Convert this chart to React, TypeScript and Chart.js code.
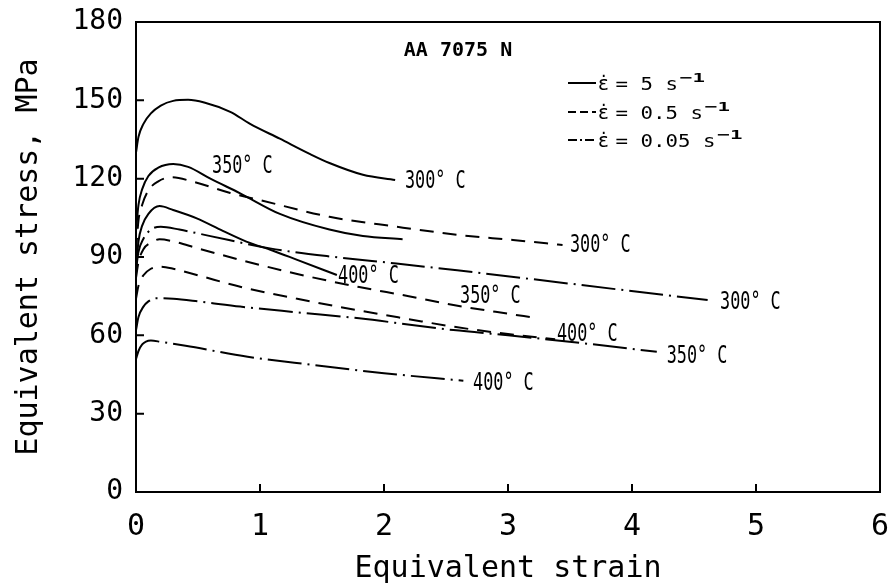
import { useEffect, useRef } from "react";
import { Chart, registerables } from "chart.js";

Chart.register(...registerables);

const FONT = '"DejaVu Sans Mono", monospace';
const SANS = '"DejaVu Sans", sans-serif';

// Axis ticks
const xTickValues = [1, 2, 3, 4, 5];
const yTickValues = [30, 60, 90, 120, 150];

// strain rate 5 s^-1 (solid)
const strain5_300 = [0, 0.02, 0.06, 0.12, 0.2, 0.3, 0.42, 0.55, 0.76, 0.92, 1.16, 1.4, 1.56, 1.83, 2.09];
const stress5_300 = [130, 136, 141, 145, 148, 149.8, 150.2, 149.2, 145.6, 141, 135.3, 129.5, 126, 121.5, 119.5];
const strain5_350 = [0, 0.02, 0.05, 0.1, 0.18, 0.3, 0.42, 0.6, 0.84, 1.16, 1.56, 1.83, 2.15];
const stress5_350 = [100, 110, 116, 121, 124.2, 125.6, 124.5, 120, 114.4, 106.5, 100.5, 98, 96.8];
const strain5_400 = [0, 0.02, 0.05, 0.1, 0.19, 0.3, 0.49, 0.7, 0.89, 1.1, 1.3, 1.62];
const stress5_400 = [85, 96, 102, 106.5, 109.5, 108, 104.8, 100, 95.9, 92.5, 88.9, 83.1];

// strain rate 0.5 s^-1 (dashed)
const strain05_300 = [0, 0.02, 0.05, 0.1, 0.18, 0.29, 0.45, 0.76, 1.0, 1.56, 2.1, 2.61, 3.04, 3.44];
const stress05_300 = [92, 104, 110, 115.5, 119, 120.5, 119, 114.5, 111.8, 105.4, 101.6, 98.4, 96.5, 94.6];
const strain05_350 = [0, 0.02, 0.06, 0.12, 0.19, 0.3, 0.5, 0.84, 1.3, 1.8, 2.2, 2.56, 2.9, 3.24];
const stress05_350 = [82, 88, 93, 95.5, 96.8, 96, 93.3, 88.9, 83.5, 78.5, 75, 71.6, 69, 66.6];
const strain05_400 = [0, 0.02, 0.06, 0.12, 0.19, 0.3, 0.5, 0.84, 1.3, 1.8, 2.2, 2.56, 3.0, 3.38];
const stress05_400 = [74, 79, 83, 85.5, 86.3, 85.5, 83, 78.6, 74, 69.5, 66.2, 63.3, 60.5, 58.5];

// strain rate 0.05 s^-1 (dash-dot)
const strain005_300 = [0, 0.02, 0.06, 0.12, 0.2, 0.35, 0.6, 1.08, 1.6, 2.1, 2.59, 3.2, 3.9, 4.61];
const stress005_300 = [85, 92, 97, 100.5, 101.6, 100.5, 98, 93.3, 90, 87.5, 84.9, 81.5, 77.5, 73.5];
const strain005_350 = [0, 0.02, 0.06, 0.1, 0.16, 0.3, 0.5, 0.84, 1.3, 1.8, 2.56, 3.0, 3.6, 4.2];
const stress005_350 = [62, 67, 71, 73, 74.2, 74, 73, 71, 68.8, 66.5, 62, 60, 57, 53.7];
const strain005_400 = [0, 0.02, 0.05, 0.08, 0.12, 0.2, 0.4, 0.9, 1.4, 2.0, 2.64];
const stress005_400 = [51, 54, 56.5, 57.6, 58, 57.5, 56, 51.8, 48.8, 45.5, 42.6];

// Temperature annotations (left edge / baseline, in data units)
const tempLabels = ["350° C", "300° C", "400° C", "300° C", "350° C", "400° C", "300° C", "350° C", "400° C"];
const tempStrain = [0.613, 2.169, 1.63, 3.5, 2.613, 3.395, 4.71, 4.28, 2.718];
const tempStress = [122.2, 116.4, 80, 91.9, 72.4, 57.8, 70.1, 49.4, 39.1];

// Legend entries
const legendRates = ["5", "0.5", "0.05"];
const chartTitle = "AA 7075 N";

const SOLID: number[] = [];
const DASHED = [14, 9];
const DASHDOT = [34, 6, 2, 6];

export default function App() {
  const ref = useRef<HTMLCanvasElement>(null);

  useEffect(() => {
    document.body.style.margin = "0";
    const canvas = ref.current!;
    const mk = (xs: number[], ys: number[]) => xs.map((x, i) => ({ x, y: ys[i] }));

    const series = [
      { label: "5 s⁻¹, 300° C", xs: strain5_300, ys: stress5_300, dash: SOLID },
      { label: "5 s⁻¹, 350° C", xs: strain5_350, ys: stress5_350, dash: SOLID },
      { label: "5 s⁻¹, 400° C", xs: strain5_400, ys: stress5_400, dash: SOLID },
      { label: "0.5 s⁻¹, 300° C", xs: strain05_300, ys: stress05_300, dash: DASHED },
      { label: "0.5 s⁻¹, 350° C", xs: strain05_350, ys: stress05_350, dash: DASHED },
      { label: "0.5 s⁻¹, 400° C", xs: strain05_400, ys: stress05_400, dash: DASHED },
      { label: "0.05 s⁻¹, 300° C", xs: strain005_300, ys: stress005_300, dash: DASHDOT },
      { label: "0.05 s⁻¹, 350° C", xs: strain005_350, ys: stress005_350, dash: DASHDOT },
      { label: "0.05 s⁻¹, 400° C", xs: strain005_400, ys: stress005_400, dash: DASHDOT },
    ];

    const drawScaledText = (
      ctx: CanvasRenderingContext2D,
      text: string,
      x: number,
      y: number,
      font: string,
      sx: number,
      align: CanvasTextAlign = "left"
    ) => {
      ctx.save();
      ctx.font = font;
      ctx.textAlign = align;
      ctx.textBaseline = "alphabetic";
      ctx.translate(x, y);
      ctx.scale(sx, 1);
      ctx.fillText(text, 0, 0);
      ctx.restore();
    };

    const decor = {
      id: "decor",
      afterDraw(chart: any) {
        const ctx: CanvasRenderingContext2D = chart.ctx;
        const ca = chart.chartArea;
        const xs = chart.scales.x;
        const ys = chart.scales.y;
        ctx.save();
        ctx.strokeStyle = "#000";
        ctx.fillStyle = "#000";
        ctx.lineWidth = 2;
        ctx.setLineDash([]);
        ctx.strokeRect(ca.left, ca.top, ca.right - ca.left, ca.bottom - ca.top);
        // inward ticks
        ctx.beginPath();
        xTickValues.forEach((v) => {
          const px = xs.getPixelForValue(v);
          ctx.moveTo(px, ca.bottom);
          ctx.lineTo(px, ca.bottom - 8);
        });
        yTickValues.forEach((v) => {
          const py = ys.getPixelForValue(v);
          ctx.moveTo(ca.left, py);
          ctx.lineTo(ca.left + 8, py);
        });
        ctx.stroke();

        // temperature labels
        tempLabels.forEach((t, i) => {
          drawScaledText(
            ctx,
            t,
            xs.getPixelForValue(tempStrain[i]),
            ys.getPixelForValue(tempStress[i]),
            `24px ${FONT}`,
            0.7
          );
        });

        // title
        drawScaledText(ctx, chartTitle, 458, 56, `bold 20px ${FONT}`, 1, "center");

        // legend
        const dashes = [SOLID, [8, 4], [9, 3, 2, 3]];
        const baseY = [90, 119, 147];
        legendRates.forEach((r, i) => {
          const base = baseY[i];
          ctx.save();
          ctx.lineWidth = 2;
          ctx.setLineDash(dashes[i]);
          ctx.beginPath();
          ctx.moveTo(568, base - 7);
          ctx.lineTo(596, base - 7);
          ctx.stroke();
          ctx.restore();
          drawScaledText(ctx, "ε̇", 598, base, `20px ${SANS}`, 1);
          const main = ` = ${r} s`;
          ctx.font = `17px ${FONT}`;
          const w = ctx.measureText(main).width * 1.22;
          drawScaledText(ctx, main, 603, base, `17px ${FONT}`, 1.22);
          drawScaledText(ctx, "−1", 603 + w + 2, base - 8, `bold 13px ${FONT}`, 1.6);
        });
        ctx.restore();
      },
    };

    const chart = new Chart(canvas, {
      type: "line",
      data: {
        datasets: series.map((s) => ({
          label: s.label,
          data: mk(s.xs, s.ys),
          borderColor: "#000",
          backgroundColor: "#000",
          borderWidth: 2,
          borderDash: s.dash,
          borderCapStyle: "butt",
          pointRadius: 0,
          fill: false,
          cubicInterpolationMode: "monotone",
        })),
      },
      options: {
        responsive: false,
        animation: false,
        events: [],
        layout: { padding: { left: 0, top: 22, right: 9, bottom: 0 } },
        plugins: {
          legend: { display: false },
          tooltip: { enabled: false },
          title: { display: false },
        },
        scales: {
          x: {
            type: "linear",
            position: "bottom",
            min: 0,
            max: 6,
            ticks: {
              stepSize: 1,
              color: "#000",
              font: { family: FONT, size: 30 },
              padding: 17,
              maxRotation: 0,
              autoSkip: false,
            },
            grid: { display: false, drawTicks: false },
            border: { display: false },
            title: {
              display: true,
              text: "Equivalent strain",
              color: "#000",
              font: { family: FONT, size: 30 },
              padding: { top: 0, bottom: 1 },
            },
            afterFit: (s: any) => {
              s.height = 96;
              s.paddingLeft = 0;
              s.paddingRight = 0;
            },
          },
          y: {
            type: "linear",
            position: "left",
            min: 0,
            max: 180,
            ticks: {
              stepSize: 30,
              color: "#000",
              font: { family: FONT, size: 28 },
              padding: 13,
              autoSkip: false,
            },
            grid: { display: false, drawTicks: false },
            border: { display: false },
            title: {
              display: true,
              text: "Equivalent stress, MPa",
              color: "#000",
              font: { family: FONT, size: 30 },
              padding: { top: 11, bottom: 0 },
            },
            afterFit: (s: any) => {
              s.width = 136;
              s.paddingTop = 0;
              s.paddingBottom = 0;
            },
          },
        },
      },
      plugins: [decor],
    } as any);

    return () => chart.destroy();
  }, []);

  return (
    <div style={{ width: 889, height: 588, background: "#fff" }}>
      <canvas ref={ref} width={889} height={588} style={{ display: "block" }} />
    </div>
  );
}
